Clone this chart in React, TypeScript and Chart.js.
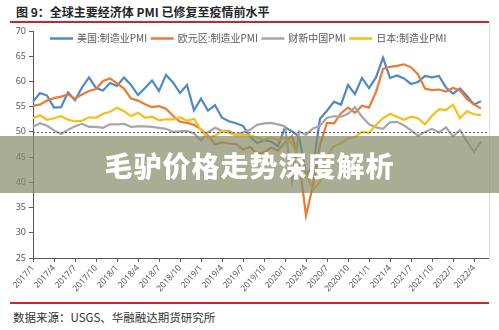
import React, { useEffect, useRef } from 'react';
import { Chart, registerables } from 'chart.js';

Chart.register(...registerables);

const TITLE = '图 9：全球主要经济体 PMI 已修复至疫情前水平';
const SOURCE = '数据来源：USGS、华融融达期货研究所';
const BANNER = '毛驴价格走势深度解析';

const YEARS = ['2017', '2018', '2019', '2020', '2021', '2022'];
const MONTHS = ['1', '2', '3', '4', '5', '6', '7', '8', '9', '10', '11', '12'];
const LAST_MONTH_2022 = 6;

const SERIES_NAMES = ['美国:制造业PMI', '欧元区:制造业PMI', '财新中国PMI', '日本:制造业PMI'];
const SERIES_COLORS = ['#4d89c7', '#ea7a34', '#a6a6a6', '#f7be16'];

const US_PMI = [
  56.0, 57.7, 57.2, 54.8, 54.9, 57.8, 56.3, 58.8, 60.8, 58.7, 58.2, 59.7,
  59.1, 60.8, 59.3, 57.3, 58.7, 60.2, 58.1, 61.3, 59.8, 57.7, 59.3, 54.3,
  56.6, 54.2, 55.3, 52.8, 52.1, 51.7, 51.2, 49.1, 47.8, 48.3, 48.1, 47.2,
  50.9, 50.1, 49.1, 41.5, 43.1, 52.6, 54.2, 56.0, 55.4, 59.3, 57.5, 60.7,
  58.7, 60.8, 64.7, 60.7, 61.2, 60.6, 59.5, 59.9, 61.1, 60.8, 61.1, 58.8,
  57.6, 58.6, 57.1, 55.4, 56.1,
];
const EURO_PMI = [
  55.2, 55.4, 56.2, 56.7, 57.0, 57.4, 56.6, 57.4, 58.1, 58.5, 60.1, 60.6,
  59.6, 58.6, 56.6, 56.2, 55.5, 54.9, 55.1, 54.6, 53.2, 52.0, 51.8, 51.4,
  50.5, 49.3, 47.5, 47.9, 47.7, 47.6, 46.5, 47.0, 45.7, 45.9, 46.9, 46.3,
  47.9, 49.2, 44.5, 33.4, 39.4, 47.4, 51.8, 51.7, 53.7, 54.8, 53.8, 55.2,
  54.8, 57.9, 62.5, 62.9, 63.1, 63.4, 62.8, 61.4, 58.6, 58.3, 58.4, 58.0,
  58.7, 58.2, 56.5, 55.5, 54.6,
];
const CAIXIN_PMI = [
  51.0, 51.7, 51.2, 50.3, 49.6, 50.4, 51.1, 51.6, 51.0, 51.0, 50.8, 51.5,
  51.5, 51.6, 51.0, 51.1, 51.1, 51.0, 50.8, 50.6, 50.0, 50.1, 50.2, 49.7,
  48.3, 49.9, 50.8, 50.2, 50.2, 49.4, 49.9, 50.4, 51.4, 51.7, 51.8, 51.5,
  51.1, 40.3, 50.1, 49.4, 50.7, 51.2, 52.8, 53.1, 53.0, 53.6, 54.9, 53.0,
  51.5, 50.9, 50.6, 51.9, 52.0, 51.3, 50.3, 49.2, 50.0, 50.6, 49.9, 50.9,
  49.1, 50.4, 48.1, 46.0, 48.1,
];
const JAPAN_PMI = [
  52.7, 53.3, 52.4, 52.7, 53.1, 52.4, 52.1, 52.2, 52.9, 52.8, 53.6, 54.0,
  54.8, 54.1, 53.1, 53.8, 52.8, 53.0, 52.3, 52.5, 52.5, 52.9, 52.2, 52.6,
  50.3, 48.9, 49.2, 50.2, 49.8, 49.3, 49.4, 49.3, 48.9, 48.4, 48.9, 48.4,
  48.8, 47.8, 44.8, 41.9, 38.4, 40.1, 45.2, 47.2, 47.7, 48.7, 49.0, 50.0,
  49.8, 51.4, 52.7, 53.6, 53.0, 52.4, 53.0, 52.7, 51.5, 53.2, 54.5, 54.3,
  55.4, 52.7, 54.1, 53.5, 53.3,
];

const Y_MIN = 25;
const Y_MAX = 70;
const Y_STEP = 5;
const THRESHOLD = 50;

const LABELS: string[] = [];
YEARS.forEach((y) => {
  MONTHS.forEach((m) => {
    if (y === '2022' && Number(m) > LAST_MONTH_2022) return;
    LABELS.push(`${y}/${m}`);
  });
});

const SERIES = [US_PMI, EURO_PMI, CAIXIN_PMI, JAPAN_PMI];
const DRAW_ORDER = [4, 3, 2, 1];

const CJK = '"Noto Sans CJK SC", "Noto Sans", sans-serif';

const refLinePlugin = {
  id: 'refLine',
  afterDatasetsDraw(chart: any) {
    const { ctx, chartArea, scales } = chart;
    const y = Math.round(scales.y.getPixelForValue(THRESHOLD)) + 0.5;
    ctx.save();
    ctx.strokeStyle = '#555';
    ctx.lineWidth = 1;
    ctx.setLineDash([2, 2]);
    ctx.beginPath();
    ctx.moveTo(chartArea.left, y);
    ctx.lineTo(chartArea.right, y);
    ctx.stroke();
    ctx.restore();
  },
};

const borderPlugin = {
  id: 'rightBorder',
  afterDraw(chart: any) {
    const { ctx, chartArea } = chart;
    ctx.save();
    ctx.strokeStyle = '#dcdcdc';
    ctx.lineWidth = 1;
    ctx.beginPath();
    ctx.moveTo(chartArea.right + 1.5, 0);
    ctx.lineTo(chartArea.right + 1.5, chartArea.bottom);
    ctx.stroke();
    ctx.restore();
  },
};

const legendPlugin = {
  id: 'inlineLegend',
  afterDraw(chart: any) {
    const { ctx, chartArea } = chart;
    ctx.save();
    ctx.font = `10px ${CJK}`;
    ctx.textBaseline = 'middle';
    ctx.textAlign = 'left';
    let x = chartArea.left + 17;
    const y = chartArea.top + 7.5;
    chart.data.datasets.forEach((ds: any) => {
      ctx.strokeStyle = ds.borderColor;
      ctx.lineWidth = 2.5;
      ctx.beginPath();
      ctx.moveTo(x, y);
      ctx.lineTo(x + 23, y);
      ctx.stroke();
      x += 27;
      ctx.fillStyle = '#595959';
      ctx.fillText(ds.label, x, y);
      x += ctx.measureText(ds.label).width + 3.5;
    });
    ctx.restore();
  },
};

export default function App() {
  const canvasRef = useRef<HTMLCanvasElement | null>(null);

  useEffect(() => {
    if (!canvasRef.current) return;
    const chart = new Chart(canvasRef.current, {
      type: 'line',
      data: {
        labels: LABELS,
        datasets: SERIES.map((data, i) => ({
          label: SERIES_NAMES[i],
          data,
          borderColor: SERIES_COLORS[i],
          backgroundColor: SERIES_COLORS[i],
          borderWidth: 2.2,
          pointRadius: 0,
          tension: 0,
          order: DRAW_ORDER[i],
        })),
      },
      options: {
        animation: false,
        responsive: false,
        maintainAspectRatio: false,
        layout: { padding: { top: 9, right: 11, bottom: 6, left: 0 } },
        plugins: {
          legend: { display: false },
          tooltip: { enabled: false },
          title: { display: false },
        },
        scales: {
          x: {
            type: 'category',
            offset: false,
            afterFit: (scale: any) => {
              scale.height = 38;
            },
            grid: {
              display: true,
              drawOnChartArea: false,
              drawTicks: true,
              tickLength: 4,
              color: '#595959',
            },
            border: { display: true, color: '#595959', width: 1 },
            ticks: {
              autoSkip: false,
              minRotation: 48,
              maxRotation: 48,
              padding: 1,
              color: '#595959',
              font: { size: 8.5, family: '"Noto Sans", sans-serif' },
              callback: (_v: any, idx: number) => (idx % 3 === 0 ? LABELS[idx] : null),
            },
          },
          y: {
            min: Y_MIN,
            max: Y_MAX,
            afterFit: (scale: any) => {
              scale.width = 33;
            },
            grid: {
              display: true,
              drawOnChartArea: false,
              drawTicks: true,
              tickLength: 4,
              color: '#595959',
            },
            border: { display: true, color: '#595959', width: 1 },
            ticks: {
              stepSize: Y_STEP,
              padding: 3,
              color: '#595959',
              font: { size: 9, family: '"Noto Sans", sans-serif' },
            },
          },
        },
      },
      plugins: [refLinePlugin, borderPlugin, legendPlugin],
    } as any);
    return () => chart.destroy();
  }, []);

  return (
    <div
      style={{
        position: 'fixed',
        left: 0,
        top: 0,
        width: 499,
        height: 330,
        background: '#ffffff',
        overflow: 'hidden',
      }}
    >
      <div
        style={{
          position: 'absolute',
          left: 16,
          top: 4,
          fontFamily: CJK,
          fontWeight: 700,
          fontSize: 12,
          lineHeight: '16px',
          color: '#262626',
          whiteSpace: 'nowrap',
        }}
      >
        {TITLE}
      </div>
      <div style={{ position: 'absolute', left: 10, top: 21, width: 479, height: 2, background: '#c8262b' }} />
      <canvas
        ref={canvasRef}
        width={499}
        height={280}
        style={{ position: 'absolute', left: 0, top: 22, width: 499, height: 280 }}
      />
      <div style={{ position: 'absolute', left: 10, top: 302, width: 479, height: 1.5, background: '#c8262b' }} />
      <div
        style={{
          position: 'absolute',
          left: 13,
          top: 309,
          fontFamily: CJK,
          fontSize: 11.5,
          lineHeight: '16px',
          color: '#333333',
          whiteSpace: 'nowrap',
        }}
      >
        {SOURCE}
      </div>
      <div
        style={{
          position: 'absolute',
          left: 0,
          top: 136,
          width: 499,
          height: 57,
          background: 'rgba(135,142,105,0.72)',
          display: 'flex',
          alignItems: 'center',
          justifyContent: 'center',
        }}
      >
        <span
          style={{
            fontFamily: CJK,
            fontWeight: 900,
            fontSize: 28,
            letterSpacing: 1,
            color: '#ffffff',
            whiteSpace: 'nowrap',
          }}
        >
          {BANNER}
        </span>
      </div>
    </div>
  );
}
